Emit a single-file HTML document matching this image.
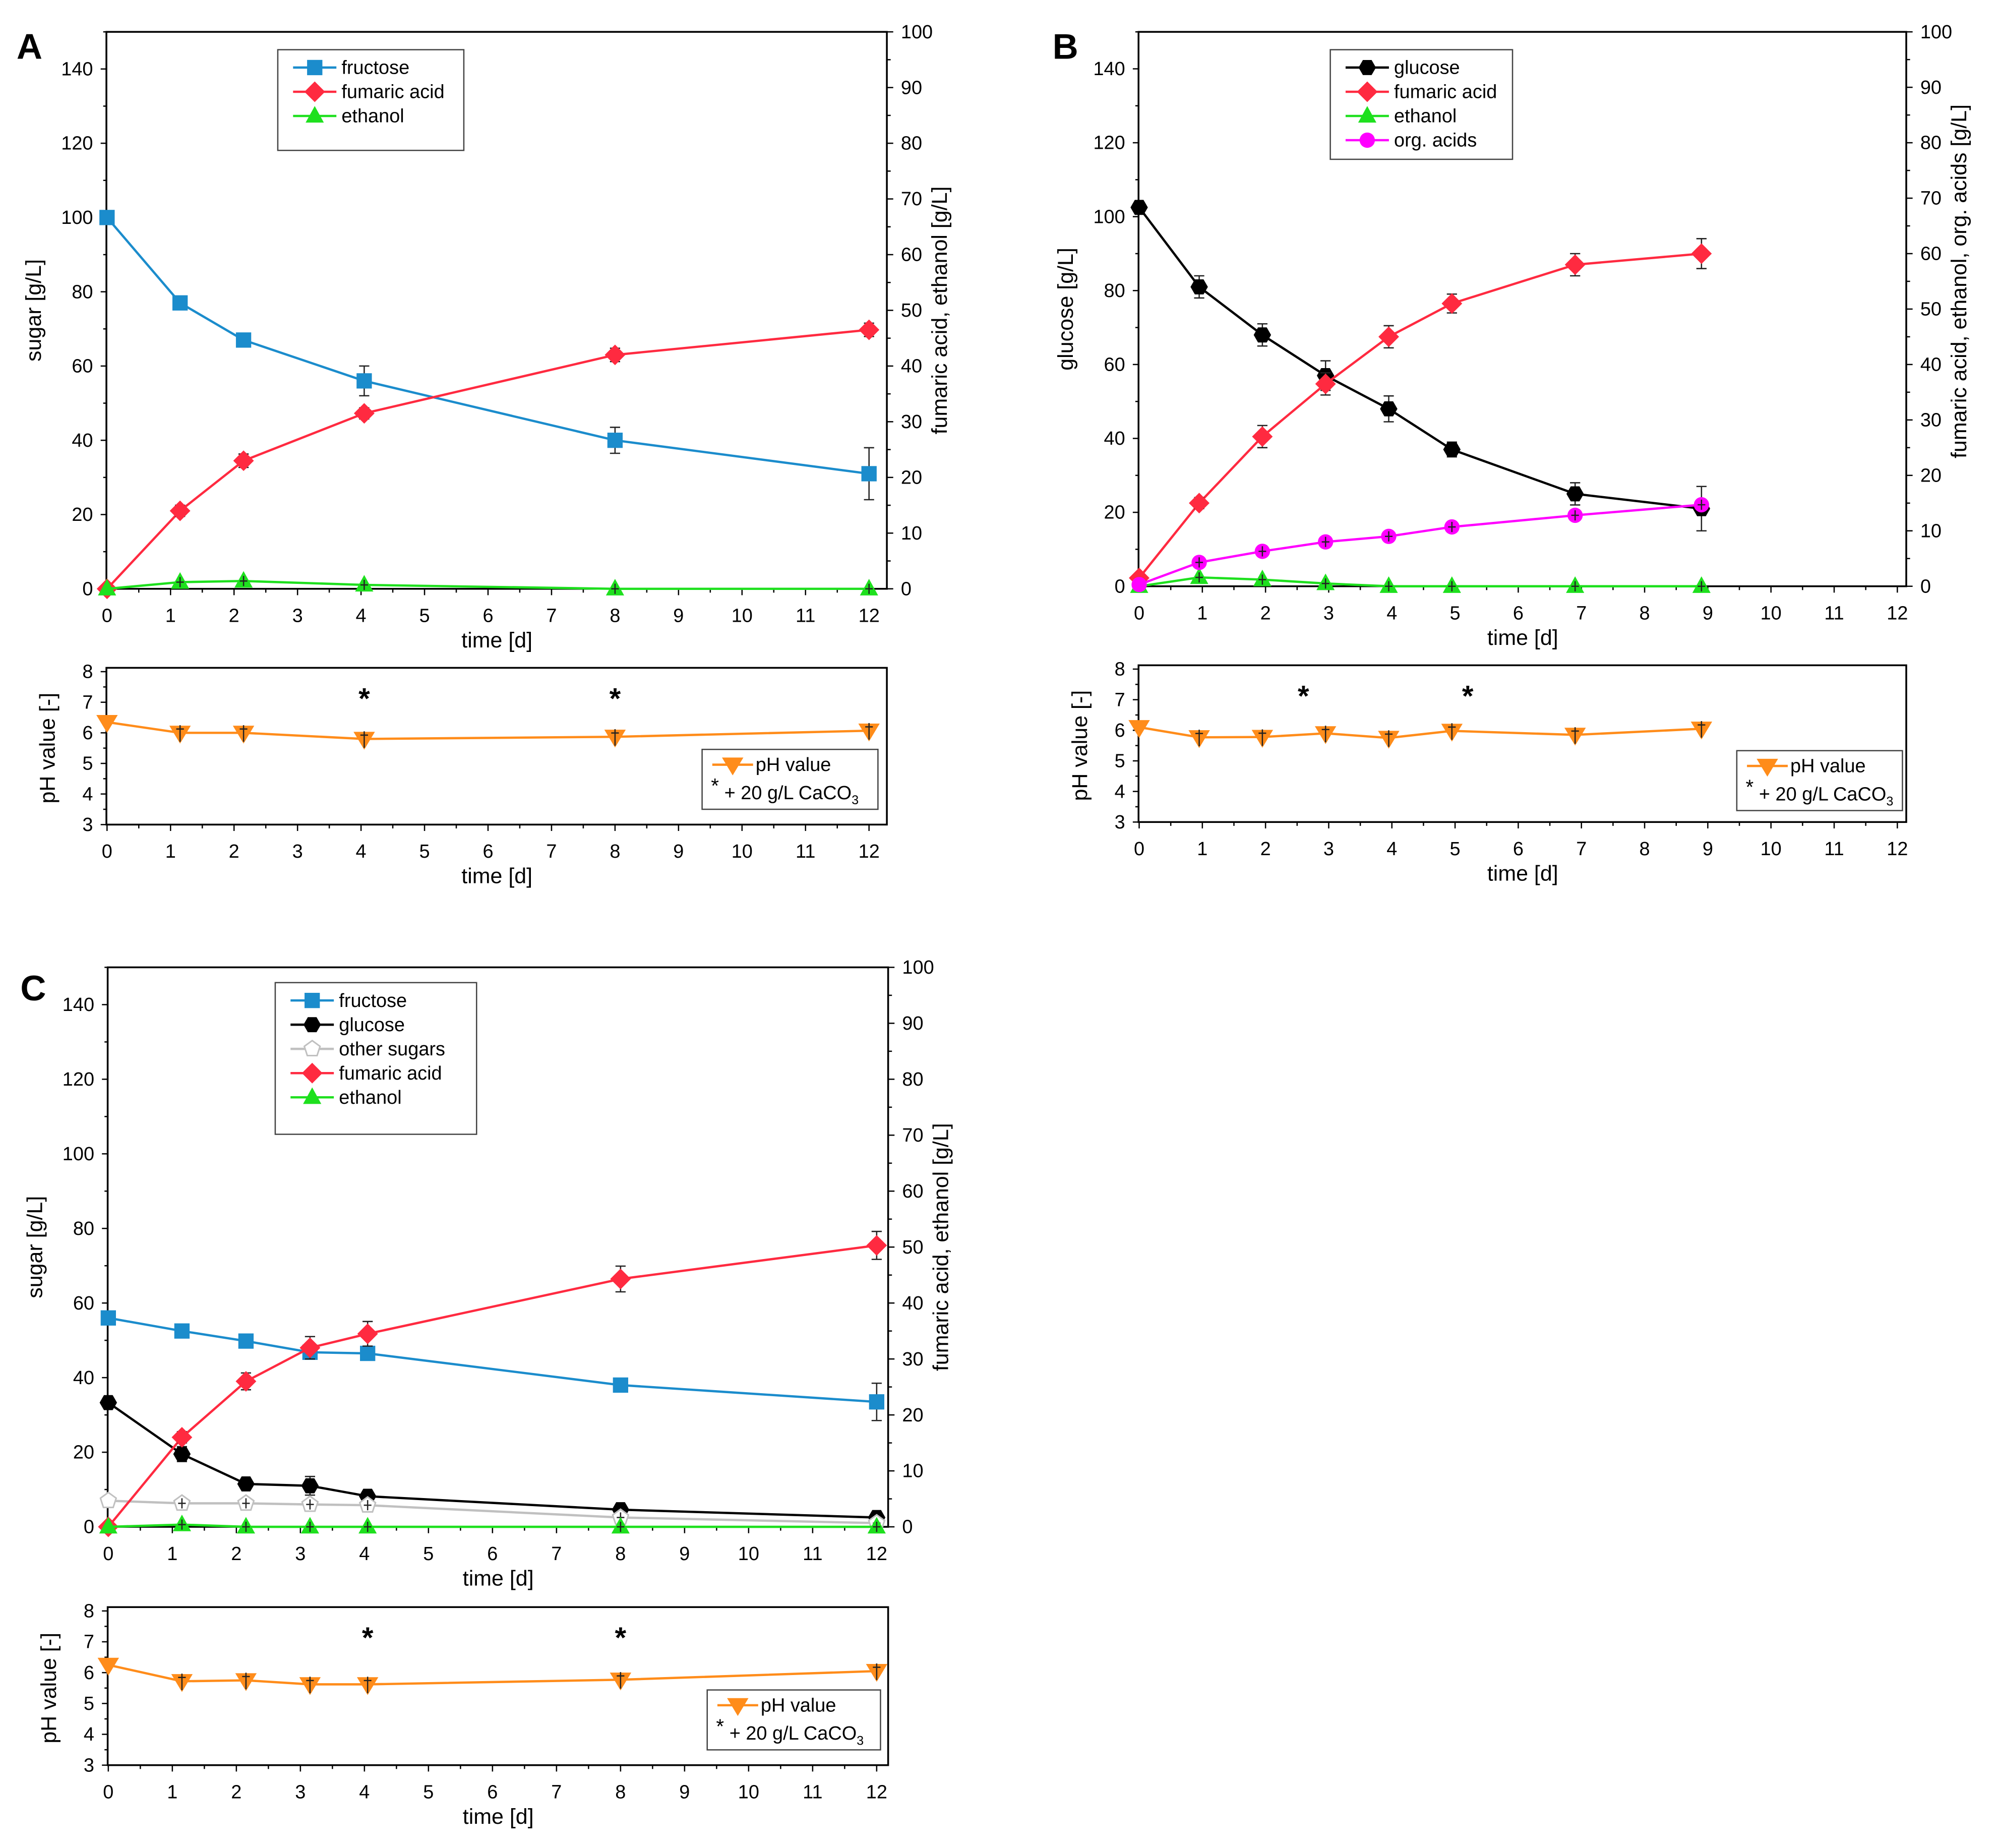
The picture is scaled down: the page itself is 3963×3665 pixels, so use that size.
<!DOCTYPE html>
<html><head><meta charset="utf-8"><style>
html,body{margin:0;padding:0;background:#fff;}
svg{display:block;font-family:"Liberation Sans",Arial,sans-serif;}
</style></head><body>
<svg id="fig" width="3963" height="3665" viewBox="0 0 1568 1450" preserveAspectRatio="none" xmlns="http://www.w3.org/2000/svg">
<rect width="1568" height="1450" fill="#fff"/>
</svg>
<script>
// ---- Panel A data ----
const aDays = [0, 1.15, 2.15, 4.05, 8, 12];
const aFructose = [100, 77, 67, 56, 40, 31];
const aFructoseErr = [1, 1, 1, 4, 3.5, 7];
const aFumaric = [0, 14, 23, 31.5, 42, 46.5];
const aFumaricErr = [0, 1, 1.2, 1, 1.2, 1.2];
const aEthanol = [0, 1.2, 1.4, 0.7, 0, 0];
const aPH = [6.35, 6.0, 6.0, 5.8, 5.87, 6.07];
const aStars = [4.05, 8];
// ---- Panel B data ----
const bDays = [0, 0.95, 1.95, 2.95, 3.95, 4.95, 6.9, 8.9];
const bGlucose = [102.5, 81, 68, 57, 48, 37, 25, 21];
const bGlucoseErr = [1, 3, 3, 4, 3.5, 2, 3, 6];
const bFumaric = [1.5, 15, 27, 36.5, 45, 51, 58, 60];
const bFumaricErr = [0.5, 1, 2, 2, 2, 1.7, 2, 2.7];
const bEthanol = [0, 1.6, 1.2, 0.5, 0, 0, 0, 0];
const bOrgAcids = [0.3, 4.3, 6.3, 8, 9, 10.7, 12.8, 14.7];
const bPH = [6.1, 5.77, 5.78, 5.9, 5.75, 5.98, 5.85, 6.05];
const bStars = [2.6, 5.2];
// ---- Panel C data ----
const cDays = [0, 1.15, 2.15, 3.15, 4.05, 8, 12];
const cFructose = [56, 52.5, 49.8, 46.8, 46.5, 38, 33.5];
const cFructoseErr = [1, 1, 1, 1, 1.5, 1, 5];
const cGlucose = [33.3, 19.5, 11.5, 11, 8.2, 4.6, 2.5];
const cGlucoseErr = [1, 2, 1, 2.5, 1, 1, 1];
const cOther = [7, 6.3, 6.3, 6, 5.8, 2.5, 1];
const cFumaric = [0, 16, 26, 32, 34.5, 44.3, 50.3];
const cFumaricErr = [0, 1, 1.5, 2, 2.2, 2.3, 2.5];
const cEthanol = [0, 0.4, 0, 0, 0, 0, 0];
const cPH = [6.25, 5.72, 5.75, 5.62, 5.62, 5.77, 6.05];
const cStars = [4.05, 8];
const leftTicks = [0,20,40,60,80,100,120,140];
const rightTicks = [0,10,20,30,40,50,60,70,80,90,100];
const xTicks = [0,1,2,3,4,5,6,7,8,9,10,11,12];
const phTicks = [3,4,5,6,7,8];

const NS = "http://www.w3.org/2000/svg";
const svg = document.getElementById('fig');
function mk(tag, attrs, parent, text){
  const e = document.createElementNS(NS, tag);
  for (const k in attrs) e.setAttribute(k, attrs[k]);
  if (text !== undefined) e.textContent = text;
  (parent || svg).appendChild(e);
  return e;
}
const COL = {fru:'#1b8ccc', glu:'#000', oth:'#c0c0c0', fum:'#ff2a40', eth:'#1ee01e', org:'#ff00ff', ph:'#ff8c1a'};
const TF = 15, AF = 17;

function marker(g, type, x, y, color, s){
  s = s || 6;
  if (type === 'sq') return mk('rect',{x:x-s,y:y-s,width:2*s,height:2*s,fill:color},g);
  if (type === 'dia') return mk('polygon',{points:`${x},${y-s*1.35} ${x+s*1.35},${y} ${x},${y+s*1.35} ${x-s*1.35},${y}`,fill:color},g);
  if (type === 'tri') return mk('polygon',{points:`${x},${y-s*1.2} ${x+s*1.1},${y+s*0.8} ${x-s*1.1},${y+s*0.8}`,fill:color},g);
  if (type === 'tridown') return mk('polygon',{points:`${x},${y+s*1.2} ${x+s*1.2},${y-s*0.8} ${x-s*1.2},${y-s*0.8}`,fill:color},g);
  if (type === 'circ') return mk('circle',{cx:x,cy:y,r:s,fill:color},g);
  if (type === 'hex'){ let p=[]; for(let i=0;i<6;i++){const a=Math.PI/3*i; p.push((x+s*1.05*Math.cos(a))+','+(y+s*1.05*Math.sin(a)));} return mk('polygon',{points:p.join(' '),fill:color},g);}
  if (type === 'pent'){ let p=[]; for(let i=0;i<5;i++){const a=-Math.PI/2+2*Math.PI/5*i; p.push((x+s*Math.cos(a))+','+(y+s*Math.sin(a)));} return mk('polygon',{points:p.join(' '),fill:'#fff',stroke:color,'stroke-width':1.2},g);}
}

function panel(cfg){
  const {name, x0, x12, xr, yB, yT, letter, lx, ly, leftTitle, rightTitle} = cfg;
  const g = mk('g',{});
  
  
  const sx = d => x0 + (x12-x0)*d/12;
  const syL = v => yB - (yB-yT)*v/150;
  const syR = v => yB - (yB-yT)*v/100;
  const fr = mk('rect',{x:x0-0.5,y:yT,width:xr-x0+0.5,height:yB-yT,fill:'none',stroke:'#000','stroke-width':1.4},g);
  
  
  const xg = mk('g',{},g);
  
  
  xTicks.forEach(t=>{
    mk('line',{x1:sx(t),x2:sx(t),y1:yB,y2:yB+5,stroke:'#000','stroke-width':1},xg);
    if (t<12) mk('line',{x1:sx(t+0.5),x2:sx(t+0.5),y1:yB,y2:yB+3,stroke:'#000','stroke-width':1},xg);
    mk('text',{x:sx(t),y:yB+26,'font-size':TF,'text-anchor':'middle'},xg,String(t));
  });
  const xt = mk('text',{x:(x0+xr)/2,y:yB+46,'font-size':AF,'text-anchor':'middle'},g,'time [d]');
  
  
  const lg = mk('g',{},g);
  
  
  leftTicks.forEach(t=>{
    mk('line',{x1:x0-5,x2:x0,y1:syL(t),y2:syL(t),stroke:'#000'},lg);
    mk('line',{x1:x0-3,x2:x0,y1:syL(t+10),y2:syL(t+10),stroke:'#000'},lg);
    mk('text',{x:x0-11,y:syL(t)+5,'font-size':TF,'text-anchor':'end'},lg,String(t));
  });
  const lt = mk('text',{x:0,y:0,'font-size':AF,'text-anchor':'middle',transform:`translate(${x0-52},${syL(75)}) rotate(-90)`},g,leftTitle);
  
  
  const rg = mk('g',{},g);
  
  
  rightTicks.forEach(t=>{
    mk('line',{x1:xr,x2:xr+5,y1:syR(t),y2:syR(t),stroke:'#000'},rg);
    if (t<100) mk('line',{x1:xr,x2:xr+3,y1:syR(t+5),y2:syR(t+5),stroke:'#000'},rg);
    mk('text',{x:xr+11,y:syR(t)+5,'font-size':TF},rg,String(t));
  });
  const rt = mk('text',{x:0,y:0,'font-size':AF,'text-anchor':'middle',transform:`translate(${xr+47},${syR(cfg.rtMid||50)}) rotate(-90)`},g,rightTitle);
  
  
  const L = mk('text',{x:lx,y:ly,'font-size':28,'font-weight':'bold'},g,letter);
  
  
  cfg.series.forEach(s=>{
    const sg = mk('g',{},g);
    
    
    const sy = s.axis==='R' ? syR : syL;
    const pts = s.vals.map((v,i)=>sx(s.days[i])+','+sy(v)).join(' ');
    mk('polyline',{points:pts,fill:'none',stroke:s.color,'stroke-width':1.8},sg);
    s.vals.forEach((v,i)=>{
      const x=sx(s.days[i]), y=sy(v);
      const e = s.err ? s.err[i] : 0;
      if (e>0.3){
        mk('line',{x1:x,x2:x,y1:sy(v+e),y2:sy(v-e),stroke:'#222','stroke-width':1},sg);
        mk('line',{x1:x-4,x2:x+4,y1:sy(v+e),y2:sy(v+e),stroke:'#222','stroke-width':1},sg);
        mk('line',{x1:x-4,x2:x+4,y1:sy(v-e),y2:sy(v-e),stroke:'#222','stroke-width':1},sg);
      }
      const m = marker(sg, s.marker, x, y, s.color, s.size);
      
      
      if (e<=0.3 && i>0) { mk('line',{x1:x,x2:x,y1:y-4,y2:y+4,stroke:'#222','stroke-width':1},sg); mk('line',{x1:x-3,x2:x+3,y1:y,y2:y,stroke:'#222','stroke-width':1},sg); }
    });
  });
  const lgd = cfg.legend;
  const lb = mk('g',{},g);
  
  
  mk('rect',{x:lgd.x,y:lgd.y,width:lgd.w,height:lgd.h,fill:'#fff',stroke:'#444','stroke-width':1},lb);
  cfg.series.forEach((s,i)=>{
    const yy = lgd.y+14+i*19;
    const eg = mk('g',{},lb);
    
    
    mk('line',{x1:lgd.x+12,x2:lgd.x+46,y1:yy,y2:yy,stroke:s.color,'stroke-width':1.8},eg);
    marker(eg, s.marker, lgd.x+29, yy, s.color, s.size);
    mk('text',{x:lgd.x+50,y:yy+5,'font-size':TF},eg,s.label);
  });

  const p = cfg.ph;
  const pg = mk('g',{},g);
  
  
  const syP = v => p.yB - (p.yB-p.yT)*(v-3)/5;
  mk('rect',{x:x0-0.5,y:p.yT-3,width:xr-x0+0.5,height:p.yB-p.yT+3,fill:'none',stroke:'#000','stroke-width':1.4},pg);
  xTicks.forEach(t=>{
    mk('line',{x1:sx(t),x2:sx(t),y1:p.yB,y2:p.yB+5,stroke:'#000'},pg);
    if (t<12) mk('line',{x1:sx(t+0.5),x2:sx(t+0.5),y1:p.yB,y2:p.yB+3,stroke:'#000'},pg);
    mk('text',{x:sx(t),y:p.yB+26,'font-size':TF,'text-anchor':'middle'},pg,String(t));
  });
  phTicks.forEach(t=>{
    mk('line',{x1:x0-5,x2:x0,y1:syP(t),y2:syP(t),stroke:'#000'},pg);
    if (t<8) mk('line',{x1:x0-3,x2:x0,y1:syP(t+0.5),y2:syP(t+0.5),stroke:'#000'},pg);
    mk('text',{x:x0-11,y:syP(t)+5,'font-size':TF,'text-anchor':'end'},pg,String(t));
  });
  const pxt = mk('text',{x:(x0+xr)/2,y:p.yB+46,'font-size':AF,'text-anchor':'middle'},pg,'time [d]');
  
  
  const pyt = mk('text',{x:0,y:0,'font-size':AF,'text-anchor':'middle',transform:`translate(${x0-41},${syP(5.5)}) rotate(-90)`},pg,'pH value [-]');
  
  
  const phs = mk('g',{},pg);
  
  
  mk('polyline',{points:p.vals.map((v,i)=>sx(p.days[i])+','+syP(v)).join(' '),fill:'none',stroke:COL.ph,'stroke-width':1.8},phs);
  p.vals.forEach((v,i)=>{
    const x=sx(p.days[i]), y=syP(v);
    const m = marker(phs,'tridown',x,y,COL.ph,7);
    
    
    if (i>0){ mk('line',{x1:x,x2:x,y1:y-6,y2:y+7,stroke:'#222'},phs); mk('line',{x1:x-3,x2:x+3,y1:y-3,y2:y-3,stroke:'#222'},phs); }
  });
  p.stars.forEach(d=>{
    const st = mk('text',{x:sx(d),y:p.yT+29,'font-size':23,'font-weight':'bold','text-anchor':'middle'},pg,'*');
    
    
  });
  const pl = mk('g',{},pg);
  
  
  mk('rect',{x:p.lx,y:p.ly,width:p.lw,height:47,fill:'#fff',stroke:'#444'},pl);
  mk('line',{x1:p.lx+8,x2:p.lx+40,y1:p.ly+12,y2:p.ly+12,stroke:COL.ph,'stroke-width':1.8},pl);
  marker(pl,'tridown',p.lx+24,p.ly+12,COL.ph,7);
  mk('text',{x:p.lx+42,y:p.ly+17,'font-size':TF},pl,'pH value');
  const t2 = mk('text',{x:p.lx+7,y:p.ly+39,'font-size':TF},pl);
  mk('tspan',{dy:-5,'font-size':16},t2,'*');
  mk('tspan',{dy:5},t2,' + 20 g/L CaCO');
  mk('tspan',{dy:4,'font-size':10},t2,'3');
}

panel({name:'a', letter:'A', lx:13, ly:46, x0:84, x12:682, xr:696, yB:462, yT:25,
  leftTitle:'sugar [g/L]', rightTitle:'fumaric acid, ethanol [g/L]', rtMid:50,
  legend:{x:218,y:39,w:146,h:79},
  series:[
    {key:'fructose',label:'fructose',days:aDays,vals:aFructose,err:aFructoseErr,axis:'L',color:COL.fru,marker:'sq',size:6},
    {key:'fumaric-acid',label:'fumaric acid',days:aDays,vals:aFumaric,err:aFumaricErr,axis:'R',color:COL.fum,marker:'dia',size:6},
    {key:'ethanol',label:'ethanol',days:aDays,vals:aEthanol,err:null,axis:'R',color:COL.eth,marker:'tri',size:6.5}
  ],
  ph:{yT:527,yB:647,days:aDays,vals:aPH,stars:aStars,lx:551,ly:588,lw:138}
});
panel({name:'b', letter:'B', lx:826, ly:46, x0:894, x12:1489, xr:1496, yB:460, yT:25,
  leftTitle:'glucose [g/L]', rightTitle:'fumaric acid, ethanol, org. acids [g/L]', rtMid:55,
  legend:{x:1044,y:39,w:143,h:86},
  series:[
    {key:'glucose',label:'glucose',days:bDays,vals:bGlucose,err:bGlucoseErr,axis:'L',color:COL.glu,marker:'hex',size:6.5},
    {key:'fumaric-acid',label:'fumaric acid',days:bDays,vals:bFumaric,err:bFumaricErr,axis:'R',color:COL.fum,marker:'dia',size:6},
    {key:'ethanol',label:'ethanol',days:bDays,vals:bEthanol,err:null,axis:'R',color:COL.eth,marker:'tri',size:6.5},
    {key:'org-acids',label:'org. acids',days:bDays,vals:bOrgAcids,err:null,axis:'R',color:COL.org,marker:'circ',size:6}
  ],
  ph:{yT:525,yB:645,days:bDays,vals:bPH,stars:bStars,lx:1363,ly:589,lw:130}
});
panel({name:'c', letter:'C', lx:16, ly:785, x0:85, x12:688, xr:697, yB:1198, yT:759,
  leftTitle:'sugar [g/L]', rightTitle:'fumaric acid, ethanol [g/L]', rtMid:50,
  legend:{x:216,y:771,w:158,h:119},
  series:[
    {key:'fructose',label:'fructose',days:cDays,vals:cFructose,err:cFructoseErr,axis:'L',color:COL.fru,marker:'sq',size:6},
    {key:'glucose',label:'glucose',days:cDays,vals:cGlucose,err:cGlucoseErr,axis:'L',color:COL.glu,marker:'hex',size:6.5},
    {key:'other-sugars',label:'other sugars',days:cDays,vals:cOther,err:null,axis:'L',color:COL.oth,marker:'pent',size:6.5},
    {key:'fumaric-acid',label:'fumaric acid',days:cDays,vals:cFumaric,err:cFumaricErr,axis:'R',color:COL.fum,marker:'dia',size:6},
    {key:'ethanol',label:'ethanol',days:cDays,vals:cEthanol,err:null,axis:'R',color:COL.eth,marker:'tri',size:6.5}
  ],
  ph:{yT:1264,yB:1385,days:cDays,vals:cPH,stars:cStars,lx:555,ly:1326,lw:136}
});
</script>
</body></html>
